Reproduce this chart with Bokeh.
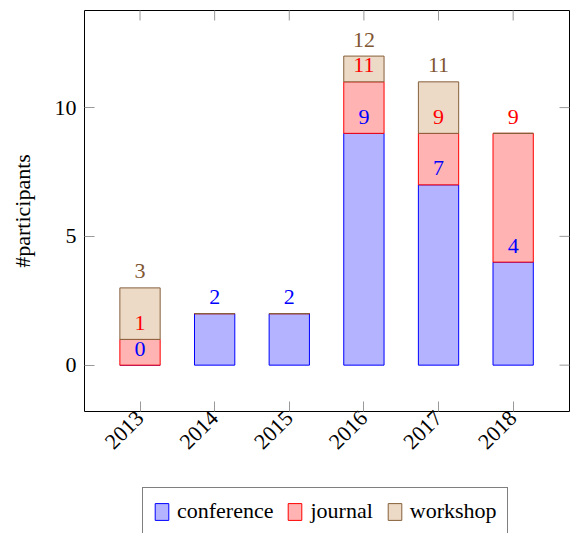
from math import pi
from bokeh.plotting import figure
from bokeh.layouts import column
from bokeh.models import (Range1d, FixedTicker, Legend, LegendItem,
                          ColumnDataSource, LabelSet)
from bokeh.embed import file_html
from bokeh.resources import INLINE

# ---- data ----
years = ["2013", "2014", "2015", "2016", "2017", "2018"]
conference = [0, 2, 2, 9, 7, 4]
journal = [1, 0, 0, 2, 2, 5]
workshop = [2, 0, 0, 1, 2, 0]
series_names = ["conference", "journal", "workshop"]
y_ticks = [0, 5, 10]
y_label = "#participants"

# ---- styles ----
FONT = "Liberation Serif"
FS = "22px"
fills = ["#b3b3ff", "#ffb3b3", "#ecd9c6"]
lines = ["#0000ff", "#ff0000", "#86603a"]
text_colors = ["#0000ff", "#ff0000", "#7f5632"]
TICK = "#999999"

x = [int(y) for y in years]
xr = Range1d(2012.256, 2018.755)
yr = Range1d(-1.80, 13.77)

p = figure(width=571, height=480, output_backend="svg", toolbar_location=None,
           x_range=xr, y_range=yr,
           min_border_left=84, min_border_right=2, min_border_top=10,
           min_border_bottom=69)
p.outline_line_color = "black"
p.outline_line_width = 1
p.xgrid.visible = False
p.ygrid.visible = False
p.background_fill_color = "white"
p.border_fill_color = "white"

src = ColumnDataSource(dict(x=x, conference=conference, journal=journal, workshop=workshop))
rs = p.vbar_stack(series_names, x="x", width=0.54, source=src,
                  fill_color=fills, line_color=lines, line_width=1)

# cumulative labels (nodes near coords)
lx, ly, lt, lc = [], [], [], []
cum = [0] * len(x)
for si, series in enumerate([conference, journal, workshop]):
    for i, v in enumerate(series):
        cum[i] += v
        if si == 0 or v > 0:
            lx.append(x[i]); ly.append(cum[i]); lt.append(str(cum[i])); lc.append(text_colors[si])
lsrc = ColumnDataSource(dict(x=lx, y=ly, text=lt, color=lc))
labels = LabelSet(x="x", y="y", text="text", source=lsrc, text_color="color",
                  text_font=FONT, text_font_size=FS, text_align="center",
                  text_baseline="alphabetic", y_offset=9.5)
p.add_layout(labels)

# axes
xa = p.xaxis[0]
xa.ticker = FixedTicker(ticks=x)
xa.major_label_overrides = {xi: yv for xi, yv in zip(x, years)}
xa.major_label_orientation = pi / 4
ya = p.yaxis[0]
ya.ticker = FixedTicker(ticks=y_ticks)
ya.axis_label = y_label
ya.axis_label_text_font_style = "normal"
ya.axis_label_text_font = FONT
ya.axis_label_text_font_size = FS
ya.axis_label_text_color = "black"
ya.axis_label_standoff = 17
for ax in (xa, ya):
    ax.axis_line_color = None
    ax.major_tick_in = 10
    ax.major_tick_out = 0
    ax.major_tick_line_color = TICK
    ax.minor_tick_line_color = None
    ax.major_label_text_font = FONT
    ax.major_label_text_font_size = FS
    ax.major_label_text_color = "black"
    ax.major_label_standoff = 8
xa.major_label_standoff = 3

# mirrored inward ticks on the top and right edges (half of each dash is clipped by the frame)
p.scatter(x=x, y=[yr.end] * len(x), marker="dash", size=20, angle=pi / 2,
          line_color=TICK, line_width=1)
p.scatter(x=[xr.end] * len(y_ticks), y=y_ticks, marker="dash", size=20,
          line_color=TICK, line_width=1)

# ---- legend strip (separate figure; its own bars lie outside its view) ----
lg = figure(width=571, height=53, output_backend="svg", toolbar_location=None,
            x_range=Range1d(100, 101), y_range=Range1d(100, 101),
            x_axis_type=None, y_axis_type=None,
            min_border_left=0, min_border_right=0, min_border_top=0, min_border_bottom=0)
lg.outline_line_color = None
lg.xgrid.visible = False
lg.ygrid.visible = False
lrs = lg.vbar_stack(series_names, x="x", width=0.54, source=src,
                    fill_color=fills, line_color=lines, line_width=1)
items = [LegendItem(label=n, renderers=[r]) for n, r in zip(series_names, lrs)]
legend = Legend(items=items, orientation="horizontal", location=(58, -2),
                glyph_width=17, glyph_height=21, label_standoff=7, spacing=13,
                padding=10, margin=0, border_line_color="black", border_line_width=1,
                label_text_font=FONT, label_text_font_size=FS,
                label_text_color="black", background_fill_color="white",
                background_fill_alpha=1)
lg.add_layout(legend, "center")

layout = column(p, lg, spacing=0)
open("out.html", "w").write(file_html(layout, INLINE))
